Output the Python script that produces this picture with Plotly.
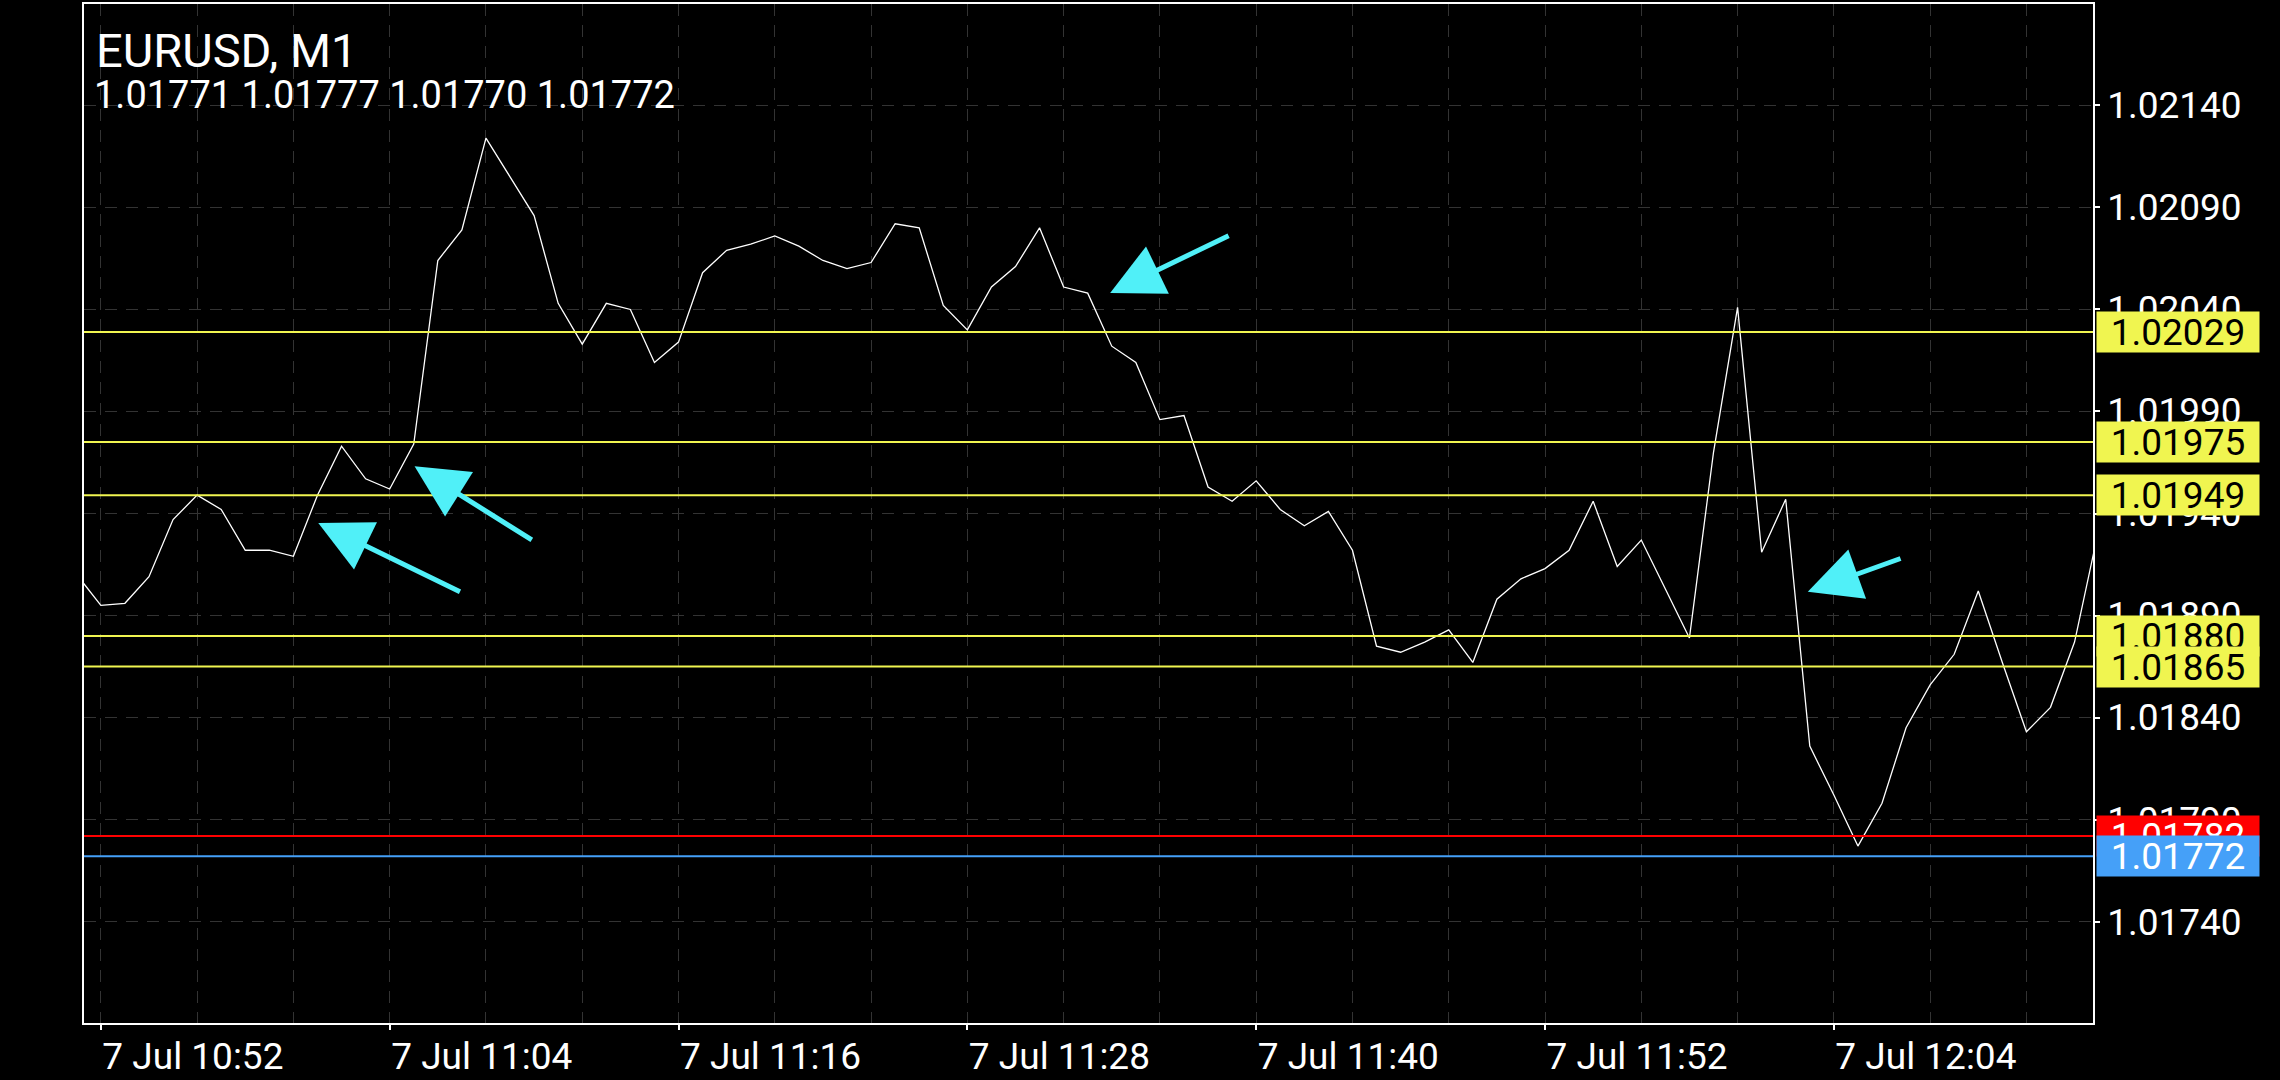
import pandas as pd
import plotly.graph_objects as go

# ---------------- data ----------------
symbol_title = "EURUSD, M1"
ohlc_text = "1.01771 1.01777 1.01770 1.01772"

start_time = "2022-07-07 10:51"
close_prices = [
    1.01910, 1.01895, 1.01896, 1.01909, 1.01937, 1.01949, 1.01942, 1.01922, 1.01922, 1.01919,
    1.01949, 1.01973, 1.01957, 1.01952, 1.01974, 1.02064, 1.02079, 1.02124, 1.02105, 1.02086,
    1.02043, 1.02023, 1.02043, 1.02040, 1.02014, 1.02024, 1.02058, 1.02069, 1.02072, 1.02076,
    1.02071, 1.02064, 1.02060, 1.02063, 1.02082, 1.02080, 1.02042, 1.02030, 1.02051, 1.02061,
    1.02080, 1.02051, 1.02048, 1.02022, 1.02014, 1.01986, 1.01988, 1.01953, 1.01946, 1.01956,
    1.01942, 1.01934, 1.01941, 1.01922, 1.01875, 1.01872, 1.01877, 1.01883, 1.01867, 1.01898,
    1.01908, 1.01913, 1.01922, 1.01946, 1.01914, 1.01927, 1.01903, 1.01879, 1.01970, 1.02041,
    1.01921, 1.01947, 1.01826, 1.01802, 1.01777, 1.01798, 1.01835, 1.01856, 1.01871, 1.01902,
    1.01867, 1.01833, 1.01845, 1.01877, 1.01932,
]
times = pd.date_range(start_time, periods=len(close_prices), freq="min")

level_prices = [1.02029, 1.01975, 1.01949, 1.01880, 1.01865]
level_labels = ["1.02029", "1.01975", "1.01949", "1.01880", "1.01865"]
ask_price, ask_label = 1.01782, "1.01782"
bid_price, bid_label = 1.01772, "1.01772"

tick_values = [1.01740, 1.01790, 1.01840, 1.01890, 1.01940, 1.01990, 1.02040, 1.02090, 1.02140]
tick_labels = ["1.01740", "1.01790", "1.01840", "1.01890", "1.01940", "1.01990", "1.02040", "1.02090", "1.02140"]

# arrows: tip (time, price) and tail (time, price)
arrow_tip_times = ["2022-07-07 11:01:02", "2022-07-07 11:05:02", "2022-07-07 11:33:56", "2022-07-07 12:02:55"]
arrow_tip_prices = [1.019354, 1.019631, 1.020481, 1.019016]
arrow_tail_times = ["2022-07-07 11:06:59", "2022-07-07 11:09:58", "2022-07-07 11:38:55", "2022-07-07 12:06:50"]
arrow_tail_prices = [1.019013, 1.019266, 1.020765, 1.019182]

# ---------------- styles ----------------
FONT = "Roboto"
YELLOW = "#F0F550"
RED = "#FF0000"
BLUE = "#45A0F8"
CYAN = "#50F0F8"
GRID = "#333333"

fig = go.Figure()
fig.add_trace(go.Scatter(x=times, y=close_prices, mode="lines",
                         line=dict(color="white", width=1.3), hoverinfo="skip",
                         showlegend=False))

for p in level_prices:
    fig.add_shape(type="line", xref="paper", x0=0, x1=1, yref="y", y0=p, y1=p,
                  line=dict(color=YELLOW, width=2), layer="above")
fig.add_shape(type="line", xref="paper", x0=0, x1=1, yref="y", y0=ask_price, y1=ask_price,
              line=dict(color=RED, width=2), layer="above")
fig.add_shape(type="line", xref="paper", x0=0, x1=1, yref="y", y0=bid_price, y1=bid_price,
              line=dict(color=BLUE, width=2), layer="above")

def price_box(price, label, bg, fg):
    fig.add_annotation(xref="paper", x=1, xanchor="left", xshift=3,
                       yref="y", y=price, yanchor="middle",
                       text=label, showarrow=False, bgcolor=bg,
                       font=dict(family=FONT, size=37, color=fg),
                       width=160, height=38, borderpad=1, align="center")

for p, lab in zip(level_prices, level_labels):
    price_box(p, lab, YELLOW, "black")
price_box(ask_price, ask_label, RED, "white")
price_box(bid_price, bid_label, BLUE, "white")

for tx, ty, ax, ay in zip(arrow_tip_times, arrow_tip_prices, arrow_tail_times, arrow_tail_prices):
    fig.add_annotation(x=tx, y=ty, xref="x", yref="y", ax=ax, ay=ay, axref="x", ayref="y",
                       text="", showarrow=True, arrowhead=2, arrowsize=2.1,
                       arrowwidth=5, arrowcolor=CYAN, standoff=0)

fig.add_annotation(xref="paper", yref="paper", x=0.005, y=0.983, xanchor="left", yanchor="top",
                   text=symbol_title, showarrow=False,
                   font=dict(family=FONT, size=47, color="white"))
fig.add_annotation(xref="paper", yref="paper", x=0.004, y=0.9345, xanchor="left", yanchor="top",
                   text=ohlc_text, showarrow=False,
                   font=dict(family=FONT, size=38, color="white"))

fig.update_xaxes(
    range=["2022-07-07 10:51:18", "2022-07-07 12:14:46"],
    tick0="2022-07-07 10:52", dtick=720000, tickformat="%-d %b %H:%M",
    ticks="outside", ticklen=5, tickcolor="white", tickwidth=1.5,
    ticklabelposition="outside right",
    tickfont=dict(family=FONT, size=37, color="white"),
    showgrid=True, gridcolor=GRID, griddash="12px,9px", gridwidth=1,
    minor=dict(dtick=240000, tick0="2022-07-07 10:52", showgrid=True,
               gridcolor=GRID, griddash="12px,9px", gridwidth=1),
    showline=True, linecolor="white", linewidth=1.5, mirror=True,
    zeroline=False,
)
fig.update_yaxes(
    range=[1.016903, 1.021897], side="right",
    tickvals=tick_values, ticktext=tick_labels,
    ticks="outside", ticklen=5, tickcolor="white", tickwidth=1.5,
    tickfont=dict(family=FONT, size=37, color="white"),
    showgrid=True, gridcolor=GRID, griddash="12px,9px", gridwidth=1,
    showline=True, linecolor="white", linewidth=1.5, mirror=True,
    zeroline=False,
)
fig.update_layout(
    width=2280, height=1080,
    margin=dict(l=84, r=187, t=2, b=53),
    paper_bgcolor="black", plot_bgcolor="black",
    font=dict(family=FONT, color="white"),
    showlegend=False,
)
fig.write_html(
    "out.html",
    config={"displayModeBar": False},
    post_script="document.body.style.margin='0';document.body.style.overflow='hidden';document.body.style.background='black';",
)
